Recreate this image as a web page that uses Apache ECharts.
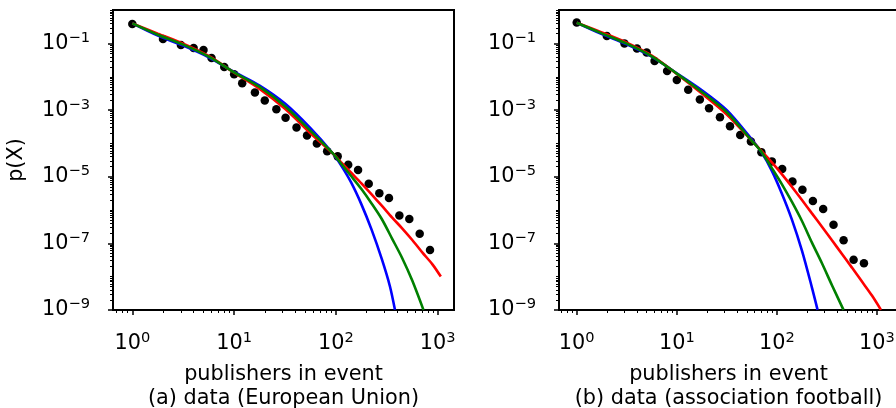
<!DOCTYPE html>
<html>
<head>
<meta charset="utf-8">
<script src="https://cdn.jsdelivr.net/npm/echarts@6/dist/echarts.min.js"></script>
<style>
  html, body { margin: 0; padding: 0; background: #fff; }
  #chart { width: 896px; height: 408px; }
</style>
</head>
<body>
<div id="chart"></div>
<script>
// ---- tick values ----
const xMajor = [1, 10, 100, 1000];
const yMajor = [1e-9, 1e-7, 1e-5, 1e-3, 1e-1];

// ---- (a) European Union ----
const euDotX = [1, 2, 3, 4, 5, 6, 8, 10, 12, 16, 20, 26, 32, 41, 52, 65, 82, 104, 132, 165, 210, 267, 332, 420, 526, 665, 840];
const euDotY = [0.39, 0.138, 0.091, 0.074, 0.065, 0.037, 0.020, 0.012, 6.5e-3, 3.4e-3, 1.95e-3, 1.07e-3, 5.9e-4, 3.0e-4, 1.74e-4, 1.0e-4, 5.8e-5, 4.1e-5, 2.3e-5, 1.6e-5, 6.2e-6, 3.2e-6, 2.3e-6, 6.8e-7, 5.4e-7, 1.95e-7, 6.3e-8];
const euBlue = [[1, 0.407], [1.78, 0.174], [3.16, 0.0871], [5.62, 0.0389], [10, 0.0141], [17.8, 5.50e-3], [31.6, 1.58e-3], [56.2, 2.88e-4], [93.3, 5.01e-5], [112, 2.24e-5], [141, 6.76e-6], [178, 1.48e-6], [224, 2.57e-7], [282, 3.39e-8], [339, 5.13e-9], [380, 1e-9]];
const euGreen = [[1, 0.407], [1.78, 0.186], [3.16, 0.0933], [5.62, 0.0407], [10, 0.0138], [17.8, 5.01e-3], [31.6, 1.32e-3], [56.2, 2.40e-4], [93.3, 5.01e-5], [112, 2.51e-5], [141, 1.05e-5], [178, 4.27e-6], [224, 1.58e-6], [282, 5.37e-7], [355, 1.41e-7], [447, 3.63e-8], [562, 7.59e-9], [724, 1e-9]];
const euRed = [[1, 0.407], [1.78, 0.2], [3.16, 0.1], [5.62, 0.0427], [10, 0.0135], [17.8, 4.37e-3], [31.6, 1.10e-3], [56.2, 2.04e-4], [93.3, 5.01e-5], [112, 2.75e-5], [141, 1.32e-5], [178, 6.31e-6], [224, 2.95e-6], [282, 1.35e-6], [355, 6.03e-7], [447, 2.82e-7], [562, 1.26e-7], [708, 5.25e-8], [891, 2.29e-8], [1072, 1e-8]];

// ---- (b) association football ----
const fbDotX = [1, 2, 3, 4, 5, 6, 8, 10, 13, 17, 21, 27, 34, 43, 55, 70, 89, 113, 143, 180, 229, 290, 368, 464, 584, 741];
const fbDotY = [0.43, 0.17, 0.102, 0.072, 0.054, 0.030, 0.015, 8.1e-3, 4.1e-3, 2.1e-3, 1.15e-3, 6.2e-4, 3.3e-4, 1.8e-4, 1.15e-4, 5.5e-5, 2.9e-5, 1.7e-5, 7.2e-6, 4.1e-6, 1.86e-6, 1.07e-6, 3.6e-7, 1.23e-7, 3.2e-8, 2.5e-8];
const fbBlue = [[1, 0.427], [1.78, 0.195], [3.16, 0.0955], [5.62, 0.0407], [10, 0.0129], [17.8, 3.98e-3], [31.6, 1.0e-3], [56.2, 1.32e-4], [70.8, 5.25e-5], [89.1, 1.51e-5], [112, 3.16e-6], [141, 5.25e-7], [178, 6.03e-8], [224, 4.68e-9], [255, 1e-9]];
const fbGreen = [[1, 0.427], [1.78, 0.204], [3.16, 0.1], [5.62, 0.0417], [10, 0.0126], [17.8, 3.55e-3], [31.6, 8.71e-4], [56.2, 1.20e-4], [70.8, 5.37e-5], [89.1, 1.82e-5], [112, 6.03e-6], [141, 1.78e-6], [178, 4.68e-7], [224, 1.05e-7], [282, 2.51e-8], [355, 5.50e-9], [463, 1e-9]];
const fbRed = [[1, 0.427], [1.78, 0.219], [3.16, 0.107], [5.62, 0.0437], [10, 0.0123], [17.8, 3.16e-3], [31.6, 7.41e-4], [56.2, 1.20e-4], [70.8, 5.75e-5], [89.1, 2.69e-5], [112, 1.20e-5], [141, 5.01e-6], [178, 2.0e-6], [224, 7.94e-7], [282, 3.16e-7], [355, 1.23e-7], [447, 4.79e-8], [562, 1.86e-8], [708, 7.08e-9], [891, 2.69e-9], [1096, 1e-9]];

// minor ticks: 2..9 in every decade, plus the decades without a label on y
const xMinor = [];
for (let k = -1; k <= 3; k++) for (let m = 2; m <= 9; m++) xMinor.push(m * Math.pow(10, k));
const yMinor = [];
for (let k = -9; k <= 0; k++) {
  if (k % 2 === 0) yMinor.push(Math.pow(10, k));
  for (let m = 2; m <= 9; m++) yMinor.push(m * Math.pow(10, k));
}

const FONT = 'DejaVu Sans';
const FS = 20.8;

function powLabel(v) {
  const e = Math.round(Math.log10(v));
  return '{b|10}{s|' + (e < 0 ? '\u2212' + (-e) : e) + '}';
}
const rich = {
  b: { fontFamily: FONT, fontSize: FS, lineHeight: 26, color: '#000' },
  s: { fontFamily: FONT, fontSize: 14.6, lineHeight: 15, verticalAlign: 'top', color: '#000' }
};

function zip(xs, ys) {
  return xs.map((x, i) => [x, ys[i]]);
}

function xAxes(grid, min, max, name) {
  return [{
    type: 'log', logBase: 10, gridIndex: grid, min: min, max: max, position: 'bottom',
    axisLine: { show: false }, splitLine: { show: false },
    axisTick: { customValues: xMajor, length: 5, lineStyle: { color: '#000', width: 1.5 } },
    axisLabel: { customValues: xMajor, formatter: powLabel, rich: rich, margin: 21, color: '#000' },
    name: name, nameLocation: 'middle', nameGap: 53,
    nameTextStyle: { fontFamily: FONT, fontSize: FS, lineHeight: 24, color: '#000' }
  }, {
    type: 'log', logBase: 10, gridIndex: grid, min: min, max: max, position: 'bottom',
    axisLine: { show: false }, splitLine: { show: false },
    axisTick: { customValues: xMinor, length: 3, lineStyle: { color: '#000', width: 1 } },
    axisLabel: { show: false }
  }];
}

function yAxes(grid, withName) {
  const major = {
    type: 'log', logBase: 10, gridIndex: grid, min: 0.99e-9, max: 1.028, position: 'left',
    axisLine: { show: false }, splitLine: { show: false },
    axisTick: { customValues: yMajor, length: 5, lineStyle: { color: '#000', width: 1.5 } },
    axisLabel: { customValues: yMajor, formatter: powLabel, rich: rich, margin: 23, color: '#000' }
  };
  if (withName) {
    major.name = 'p(X)';
    major.nameLocation = 'middle';
    major.nameRotate = 90;
    major.nameGap = 86;
    major.nameTextStyle = { fontFamily: FONT, fontSize: FS, color: '#000' };
  }
  return [major, {
    type: 'log', logBase: 10, gridIndex: grid, min: 0.99e-9, max: 1.028, position: 'left',
    axisLine: { show: false }, splitLine: { show: false },
    axisTick: { customValues: yMinor, length: 3, lineStyle: { color: '#000', width: 1 } },
    axisLabel: { show: false }
  }];
}

function panelSeries(axis, dots, blue, red, green) {
  const line = (data, color) => ({
    type: 'line', xAxisIndex: axis, yAxisIndex: axis, data: data,
    showSymbol: false, smooth: 0.3,
    lineStyle: { color: color, width: 2.6 }, z: 3
  });
  return [
    { type: 'scatter', xAxisIndex: axis, yAxisIndex: axis, data: dots,
      symbolSize: 8.5, itemStyle: { color: '#000', opacity: 1 }, z: 2 },
    line(blue, '#0000ff'),
    line(red, '#ff0000'),
    line(green, '#008000')
  ];
}

const chart = echarts.init(document.getElementById('chart'));
chart.setOption({
  animation: false,
  backgroundColor: '#fff',
  textStyle: { fontFamily: FONT },
  grid: [
    { left: 113, top: 10, width: 341, height: 300, show: true, borderColor: '#000', borderWidth: 2,
      backgroundColor: 'transparent', containLabel: false, outerBoundsMode: 'none' },
    { left: 559, top: 10, width: 339, height: 300, show: true, borderColor: '#000', borderWidth: 2,
      backgroundColor: 'transparent', containLabel: false, outerBoundsMode: 'none' }
  ],
  xAxis: [].concat(
    xAxes(0, 0.6457, 1445, 'publishers in event\n(a) data (European Union)'),
    xAxes(1, 0.6653, 1622, 'publishers in event\n(b) data (association football)')
  ),
  yAxis: [].concat(yAxes(0, true), yAxes(1, false)),
  series: [].concat(
    panelSeries(0, zip(euDotX, euDotY), euBlue, euRed, euGreen),
    panelSeries(2, zip(fbDotX, fbDotY), fbBlue, fbRed, fbGreen)
  )
});
</script>
</body>
</html>
